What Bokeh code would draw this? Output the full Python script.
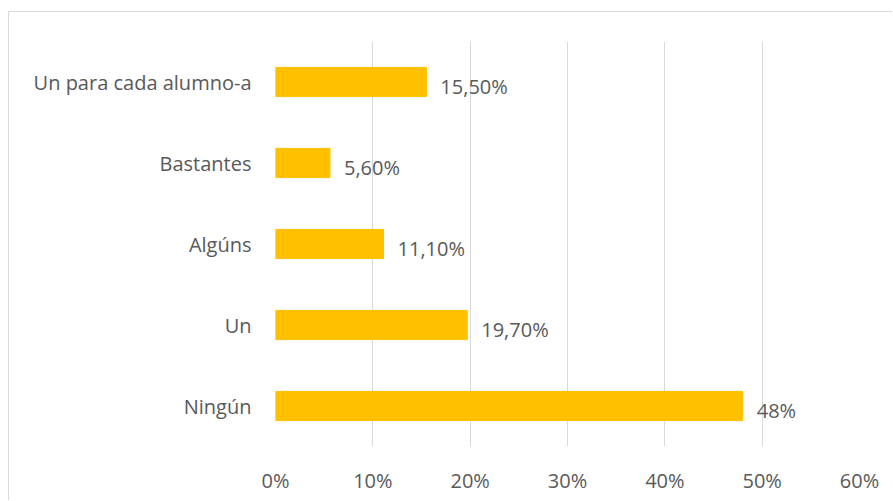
from bokeh.plotting import figure
from bokeh.models import ColumnDataSource, FixedTicker, Range1d
from bokeh.core.properties import value
from bokeh.embed import file_html
from bokeh.resources import INLINE

categories = ["Ningún", "Un", "Algúns", "Bastantes", "Un para cada alumno-a"]
values = [0.48, 0.197, 0.111, 0.056, 0.155]
value_labels = ["48%", "19,70%", "11,10%", "5,60%", "15,50%"]
tick_values = [0, 0.1, 0.2, 0.3, 0.4, 0.5, 0.6]
tick_labels = ["0%", "10%", "20%", "30%", "40%", "50%", "60%"]

FONT = "Open Sans"
TEXT = "#595959"

src = ColumnDataSource(dict(cat=categories, val=values, lab=value_labels))

p = figure(width=884, height=489, y_range=categories, x_range=Range1d(0, 0.6),
           output_backend="svg", toolbar_location=None,
           min_border_left=266, min_border_right=34, min_border_top=29, min_border_bottom=55)
p.styles = {"border-left": "1px solid #d9d9d9", "border-top": "1px solid #d9d9d9",
            "margin-top": "11px", "margin-left": "8px"}

p.hbar(y="cat", right="val", left=0, height=0.36, color="#FFC000", source=src)
p.text(x="val", y="cat", text="lab", source=src, x_offset=14, y_offset=4,
       text_baseline="middle", text_align="left", text_color=TEXT,
       text_font=value(FONT), text_font_size="20px")

p.outline_line_color = None
p.ygrid.grid_line_color = None
p.xgrid.grid_line_color = "#d9d9d9"
p.xgrid.grid_line_width = 1
p.xgrid.ticker = FixedTicker(ticks=tick_values)

p.xaxis.ticker = FixedTicker(ticks=tick_values)
p.xaxis.major_label_overrides = {t: l for t, l in zip(tick_values, tick_labels)}
for ax in (p.xaxis, p.yaxis):
    ax.axis_line_color = None
    ax.major_tick_line_color = None
    ax.minor_tick_line_color = None
    ax.major_label_text_font = FONT
    ax.major_label_text_font_size = "20px"
    ax.major_label_text_color = TEXT
p.xaxis.major_label_standoff = 14
p.yaxis.major_label_standoff = 18

open("out.html", "w").write(file_html(p, INLINE))
